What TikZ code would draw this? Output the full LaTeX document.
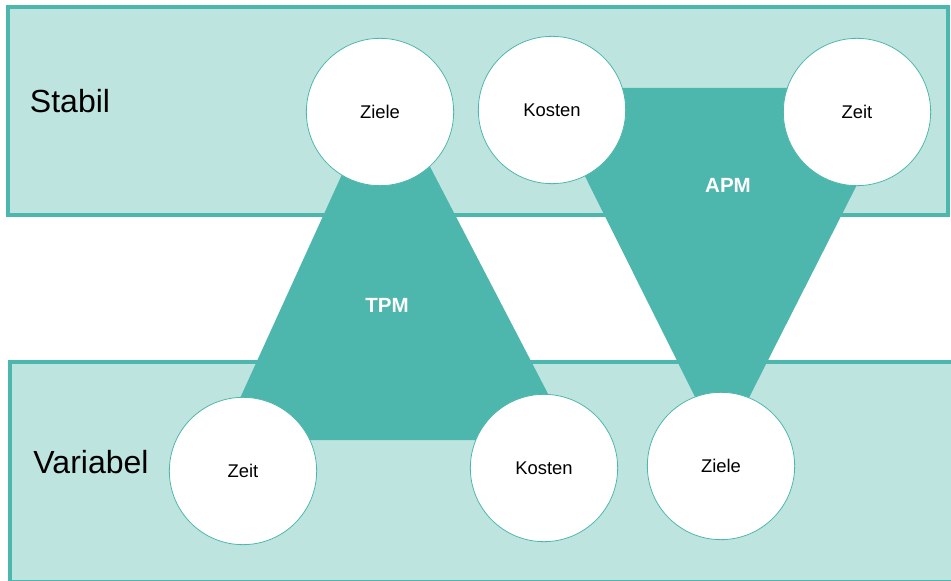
\documentclass[tikz,border=0pt]{standalone}
\usepackage{fontspec}
\setmainfont{Liberation Sans}
\definecolor{tealdark}{RGB}{78,183,173}
\definecolor{teallight}{RGB}{190,228,224}
\begin{document}
\begin{tikzpicture}[x=0.75pt, y=-0.75pt]
    % Define node styles
    \tikzstyle{band}=[fill=teallight, draw=tealdark, line width=3pt]
    \tikzstyle{goal}=[circle, fill=white, draw=tealdark, line width=0.6pt, minimum size=110.5pt, inner sep=0pt, font=\fontsize{13.8}{16}\selectfont]
    \tikzstyle{model}=[fill=tealdark]
    \tikzstyle{bandlabel}=[font=\fontsize{24}{28}\selectfont]
    \tikzstyle{modellabel}=[text=white, font=\fontsize{15.4}{18}\bfseries]

    \useasboundingbox (0,0) rectangle (951,581);

    % Bands: stable on top, variable below
    \draw[band] (8,7) rectangle (948,215);
    \draw[band] (10,362) rectangle (962,582);

    % Triangles behind the circles
    \fill[model] (385,80) -- (221,440) -- (572,440) -- cycle;
    \fill[model] (541,88) -- (906,88) -- (722,451) -- cycle;

    % Circles
    \node[goal] (tziele) at (380,112) {Ziele};
    \node[goal] (tkosten) at (552,110) {Kosten};
    \node[goal] (tzeit) at (857,112) {Zeit};
    \node[goal] (bzeit) at (243,471) {Zeit};
    \node[goal] (bkosten) at (544,468) {Kosten};
    \node[goal] (bziele) at (721,466) {Ziele};

    % Labels
    \node[bandlabel] (stabil) at (70,101) {Stabil};
    \node[bandlabel] (variabel) at (91,462) {Variabel};
    \node[modellabel] (tpm) at (387,305) {TPM};
    \node[modellabel] (apm) at (728,185) {APM};

\end{tikzpicture}
\end{document}
